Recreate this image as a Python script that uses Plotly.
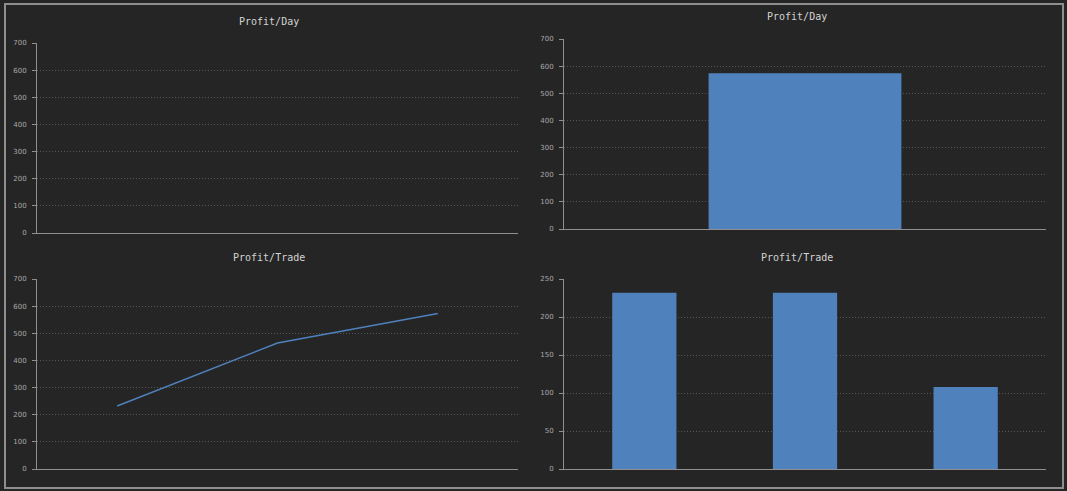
import plotly.graph_objects as go

W, H = 1067, 491

# ---- data ----
days = ["Day 1"]
profit_day = [574]

trades = ["Trade 1", "Trade 2", "Trade 3"]
profit_trade = [232, 232, 108]
profit_cum = [232, 464, 573]

BG = "#252525"
BLUE = "#4f81bd"
AXIS = "#8f8f8f"
GRID = "#555555"


def px_x(a, b):
    return [a / W, b / W]


def px_y(top, bottom):
    return [1 - bottom / H, 1 - top / H]


fig = go.Figure()

# empty profit/day line (no points yet) - keeps the top-left axes visible
fig.add_trace(go.Scatter(
    x=[None], y=[None], mode="lines",
    line=dict(color=BLUE, width=1.5),
    xaxis="x", yaxis="y", hoverinfo="skip",
))
fig.add_trace(go.Scatter(
    x=trades, y=profit_cum, mode="lines",
    line=dict(color=BLUE, width=1.5),
    xaxis="x3", yaxis="y3", hoverinfo="skip",
))
fig.add_trace(go.Bar(
    x=days, y=profit_day, marker=dict(color=BLUE, line=dict(width=0)),
    width=0.4, xaxis="x2", yaxis="y2",
))
fig.add_trace(go.Bar(
    x=trades, y=profit_trade, marker=dict(color=BLUE, line=dict(width=0)),
    width=0.4, xaxis="x4", yaxis="y4",
))

xcommon = dict(
    showline=True, linecolor=AXIS, linewidth=1, showgrid=False,
    showticklabels=False, ticks="", zeroline=False, fixedrange=True,
    automargin=False,
)
ycommon = dict(
    showline=True, linecolor=AXIS, linewidth=1,
    showgrid=True, gridcolor=GRID, griddash="1px,2px", gridwidth=1,
    ticks="outside", ticklen=4, tickcolor=AXIS, ticklabelstandoff=4,
    tickfont=dict(family="DejaVu Sans", size=7, color="#a8a8a8"),
    zeroline=False, fixedrange=True, automargin=False,
)

fig.update_layout(
    template="none",
    width=W, height=H,
    margin=dict(l=0, r=0, t=0, b=0, pad=0, autoexpand=False),
    paper_bgcolor=BG, plot_bgcolor=BG,
    showlegend=False,
    # top-left: empty profit/day line
    xaxis=dict(domain=px_x(37, 518), anchor="y", range=[0, 1], **xcommon),
    yaxis=dict(domain=px_y(43, 233), anchor="x", range=[0, 700], dtick=100, **ycommon),
    # top-right: profit/day bar
    xaxis2=dict(domain=px_x(564, 1046), anchor="y2", type="category", range=[-0.5, 0.5], **xcommon),
    yaxis2=dict(domain=px_y(39, 229), anchor="x2", range=[0, 700], dtick=100, **ycommon),
    # bottom-left: cumulative profit/trade line
    xaxis3=dict(domain=px_x(37, 518), anchor="y3", type="category", range=[-0.5, 2.5], **xcommon),
    yaxis3=dict(domain=px_y(279, 469), anchor="x3", range=[0, 700], dtick=100, **ycommon),
    # bottom-right: profit/trade bars
    xaxis4=dict(domain=px_x(564, 1046), anchor="y4", type="category", range=[-0.5, 2.5], **xcommon),
    yaxis4=dict(domain=px_y(279, 469), anchor="x4", range=[0, 250], dtick=50, **ycommon),
    shapes=[dict(
        type="rect", xref="paper", yref="paper",
        x0=5 / W, x1=1063 / W, y0=1 - 488 / H, y1=1 - 4 / H,
        line=dict(color="#8e8e8e", width=2), fillcolor="rgba(0,0,0,0)", layer="above",
    )],
)

titles = [("Profit/Day", 269, 21), ("Profit/Day", 797, 17),
          ("Profit/Trade", 269, 257), ("Profit/Trade", 797, 257)]
for text, cx, cy in titles:
    fig.add_annotation(
        text=text, x=cx / W, y=1 - cy / H, xref="paper", yref="paper",
        showarrow=False, xanchor="center", yanchor="middle",
        font=dict(family="DejaVu Sans Mono", size=10, color="#d4d4d4"),
    )

# strip the page margin so the figure sits flush in the window
page_css = (
    "var s=document.createElement('style');"
    "s.textContent='html,body{margin:0;padding:0;overflow:hidden;background:#252525}';"
    "document.head.appendChild(s);"
)

fig.write_html("out.html", config={"displayModeBar": False}, post_script=page_css)
